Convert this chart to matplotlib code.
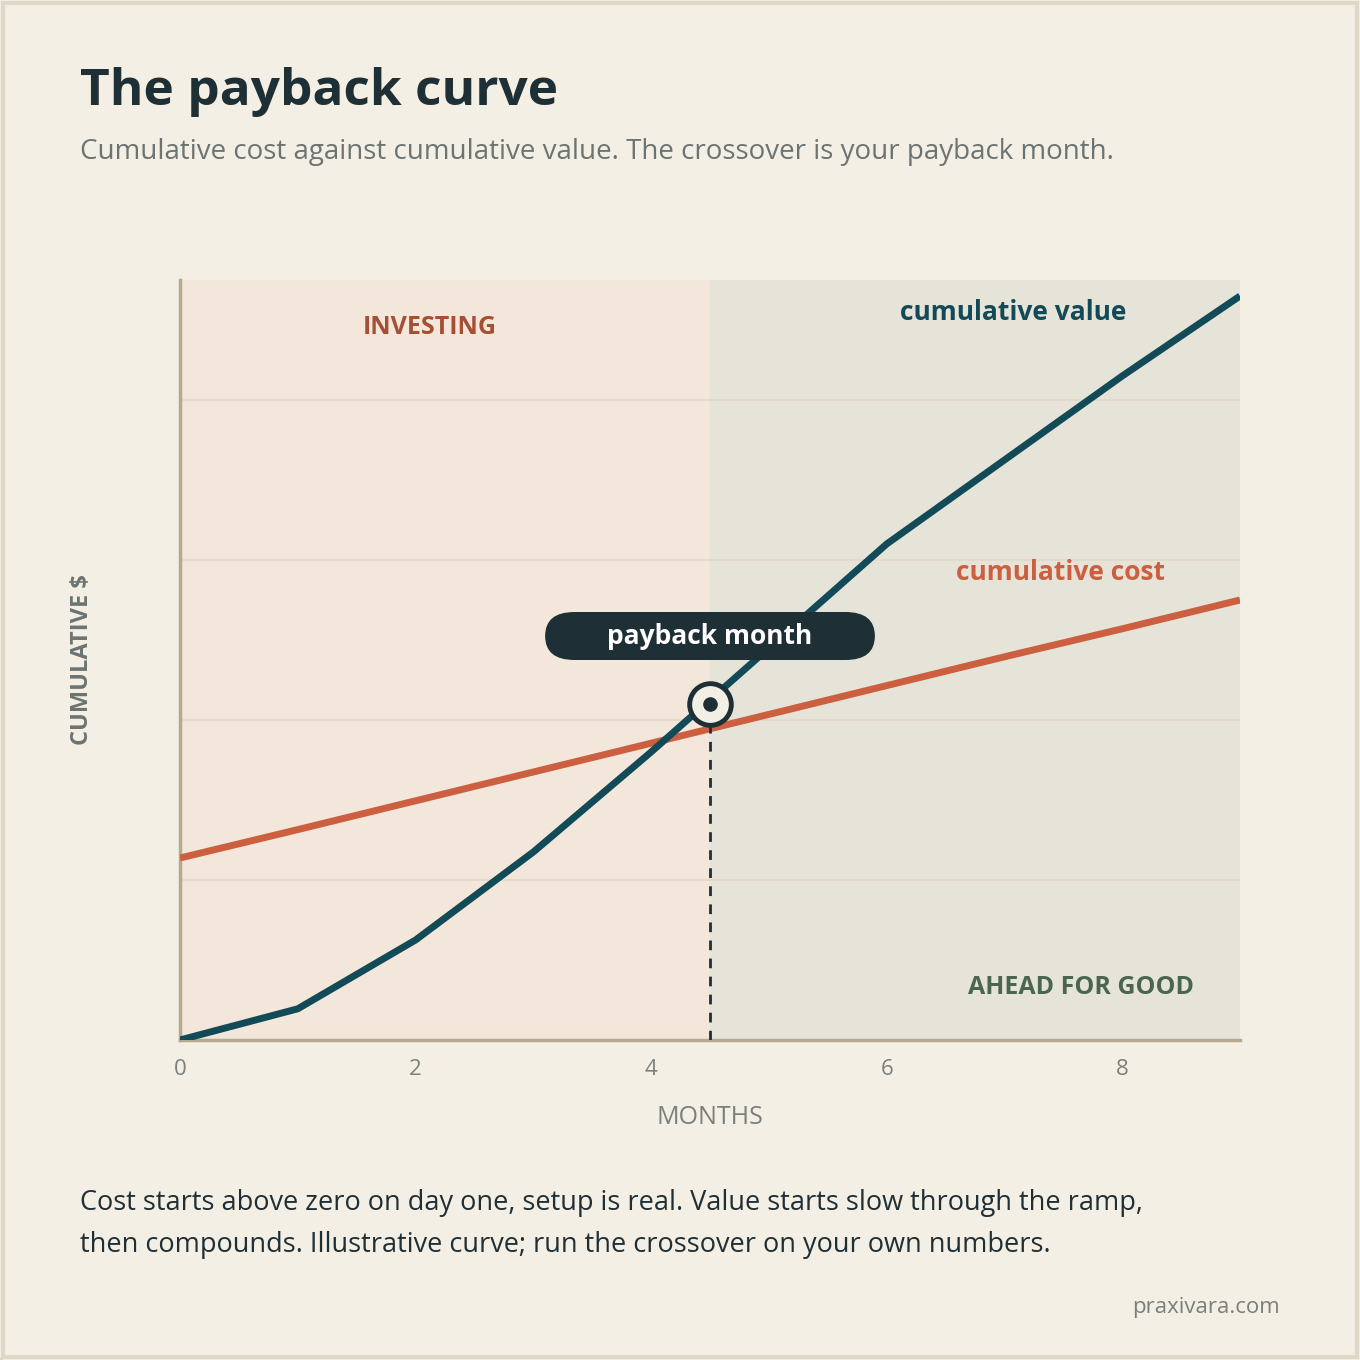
import matplotlib.pyplot as plt
from matplotlib.patches import FancyBboxPatch, Rectangle

plt.rcParams['font.family'] = ['Open Sans', 'DejaVu Sans']

months = [0, 1, 2, 3, 4, 5, 6, 7, 8, 9]
cost = [22.75, 26.3, 29.9, 33.5, 37.1, 40.7, 44.3, 47.9, 51.4, 55]
value = [0, 3.9, 12.5, 23.5, 36, 49, 62, 72.5, 83, 93]
payback_x = 4.5
payback_y = 42
x_ticks = [0, 2, 4, 6, 8]
grid_y = [20, 40, 60, 80]

BG = '#f4efe4'
TEAL = '#124a58'
RUST = '#cc5f40'

fig = plt.figure(figsize=(13.6, 13.6), dpi=100, facecolor=BG)
fig.patches.append(Rectangle((0.002, 0.002), 0.996, 0.996, transform=fig.transFigure,
                             fill=False, edgecolor='#e0d8c6', linewidth=3))

fig.text(80/1360, 1 - 92/1360, 'The payback curve', fontsize=37, fontweight='bold',
         color='#1f2f36', va='center')
fig.text(80/1360, 1 - 152/1360, 'Cumulative cost against cumulative value. The crossover is your payback month.',
         fontsize=20, color='#6b7472', va='center')
fig.lines.append(plt.Line2D([80/1360, 1280/1360], [1 - 191/1360] * 2, color='#e0d8c6', lw=2.5))

ax = fig.add_axes([180/1360, 1 - 1040/1360, 1060/1360, 760/1360])
ax.set_xlim(0, 9)
ax.set_ylim(0, 95)
ax.set_facecolor(BG)
ax.axvspan(0, payback_x, color='#f2e7da', zorder=0)
ax.axvspan(payback_x, 9, color='#e6e4d8', zorder=0)
for g in grid_y:
    ax.axhline(g, color='#e3dacb', lw=1.3, zorder=1)

ax.plot(months, cost, color=RUST, lw=5, zorder=3, solid_capstyle='butt')
ax.plot(months, value, color=TEAL, lw=5, zorder=4, solid_capstyle='butt')

ax.plot([payback_x, payback_x], [0, payback_y - 2], color='#1f2f36', lw=2, ls=(0, (3.5, 3)), zorder=5)
ax.scatter([payback_x], [payback_y], s=900, facecolor=BG, edgecolor='#1f2f36', linewidths=3.5, zorder=6)
ax.scatter([payback_x], [payback_y], s=90, color='#1f2f36', zorder=7)

box = FancyBboxPatch((3.1, 47.5), 2.8, 6, boxstyle='round,pad=0,rounding_size=0.25',
                     facecolor='#1f2f36', edgecolor='none', zorder=8, mutation_aspect=12)
ax.add_patch(box)
ax.text(4.5, 50.5, 'payback month', color='white', fontsize=19, fontweight='bold',
        ha='center', va='center', zorder=9)

ax.text(2.12, 89, 'INVESTING', color='#a64f35', fontsize=18, fontweight='bold', ha='center', va='center')
ax.text(7.07, 91, 'cumulative value', color=TEAL, fontsize=19, fontweight='bold', ha='center', va='center')
ax.text(7.48, 58.5, 'cumulative cost', color=RUST, fontsize=19, fontweight='bold', ha='center', va='center')
ax.text(7.65, 6.6, 'AHEAD FOR GOOD', color='#4a6650', fontsize=18, fontweight='bold', ha='center', va='center')

for s in ['top', 'right']:
    ax.spines[s].set_visible(False)
for s in ['left', 'bottom']:
    ax.spines[s].set_color('#b5a990')
    ax.spines[s].set_linewidth(2.5)
ax.set_xticks(x_ticks)
ax.set_yticks([])
ax.tick_params(axis='x', length=0, pad=14, labelsize=16, labelcolor='#7a7f7c')
ax.set_xlabel('MONTHS', fontsize=18, color='#7a7f7c', labelpad=18)
ax.set_ylabel('CUMULATIVE $', fontsize=17, color='#6b7472', fontweight='bold', labelpad=62)
ax.yaxis.label.set_fontstretch('expanded')

fig.text(80/1360, 1 - 1203/1360, 'Cost starts above zero on day one, setup is real. Value starts slow through the ramp,',
         fontsize=19.5, color='#1f2f36', va='center')
fig.text(80/1360, 1 - 1245/1360, 'then compounds. Illustrative curve; run the crossover on your own numbers.',
         fontsize=19.5, color='#1f2f36', va='center')
fig.text(1280/1360, 1 - 1308/1360, 'praxivara.com', fontsize=16, color='#7a7f7c', ha='right', va='center')

fig.savefig('out.png', dpi=100, facecolor=BG)
